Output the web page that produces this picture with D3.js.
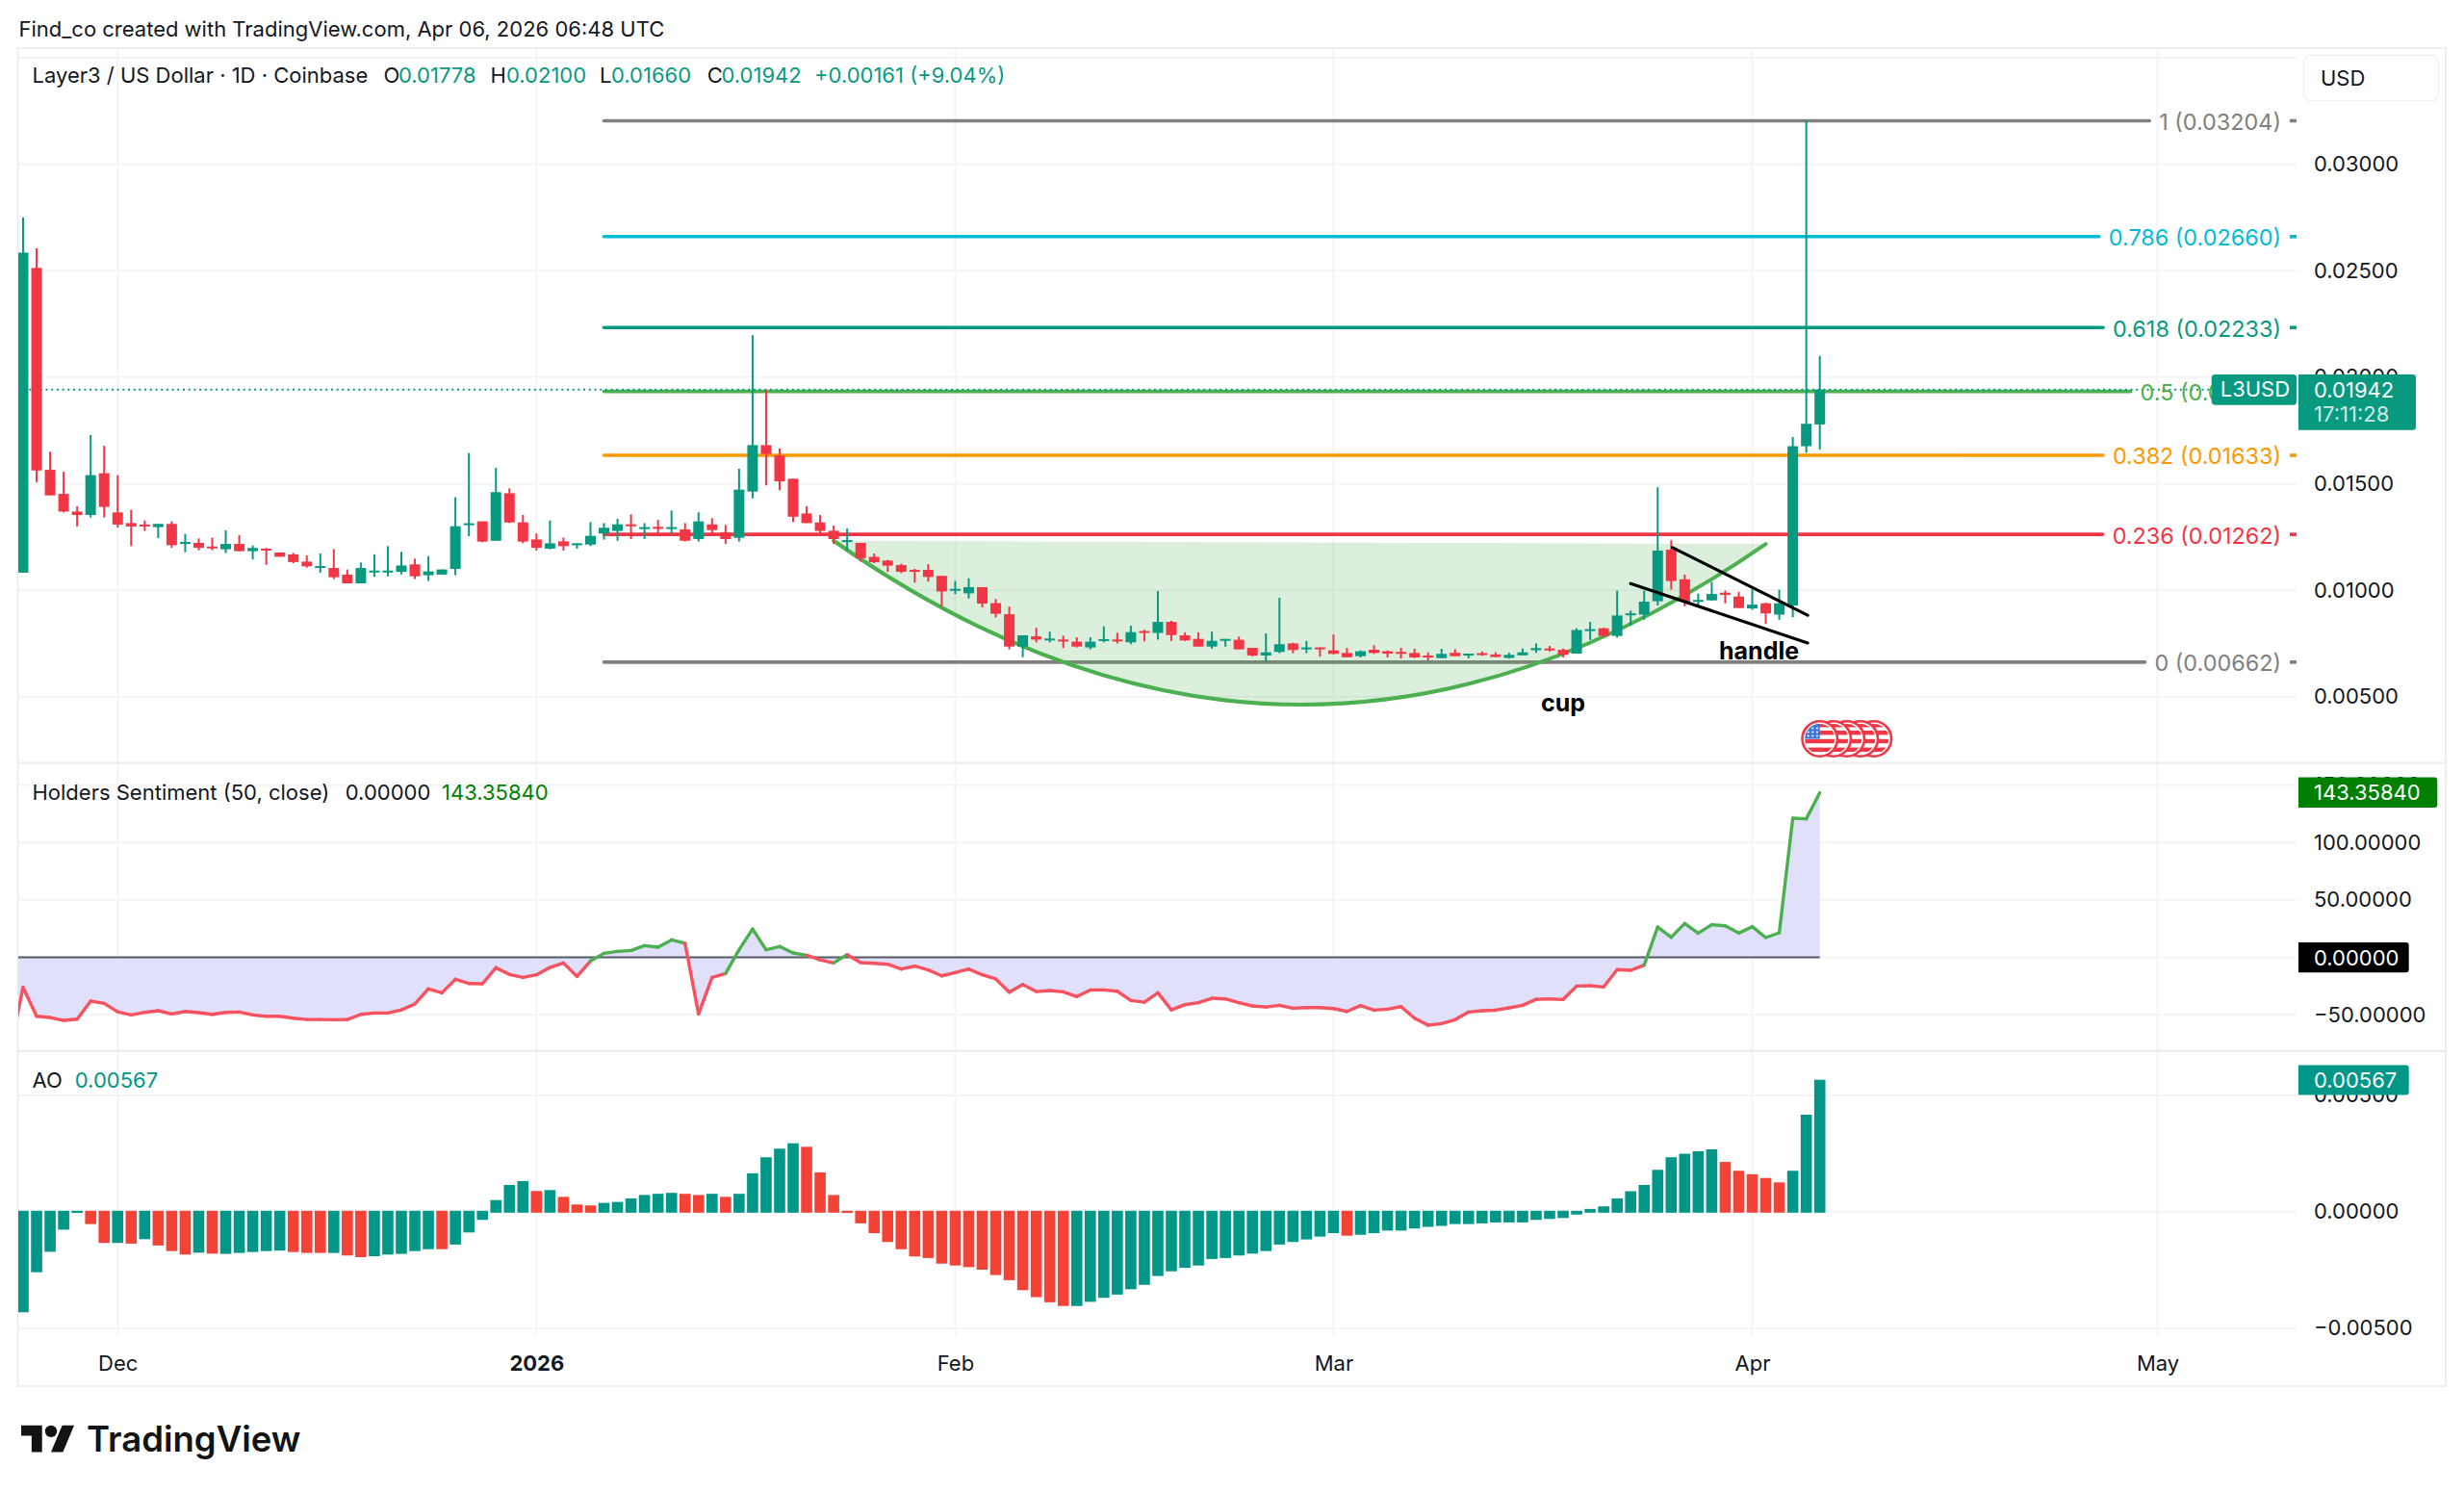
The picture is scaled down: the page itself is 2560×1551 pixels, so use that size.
<!DOCTYPE html>
<html>
<head>
<meta charset="utf-8">
<title>Layer3 / US Dollar</title>
<script src="https://cdn.jsdelivr.net/npm/d3@7"></script>
<style>
html,body{margin:0;padding:0;background:#fff;}
svg{display:block;}
text{font-family:Inter,"Noto Sans",sans-serif;fill:#131722;}
</style>
</head>
<body>
<svg id="chart" width="2560" height="1551"></svg>
<script>
// Daily L3USD candles, first session Nov 24 2025
const firstSession = Date.UTC(2025, 10, 24);
const opens = [.01082,.02513,.01565,.01452,.01369,.01353,.01549,.01365,.01315,.01308,.01296,.01311,.01219,.01222,.01205,.01192,.01217,.01183,.01195,.01177,.01168,.01134,.01107,.01104,.01073,.01032,.01086,.01086,.01086,.01121,.01070,.01073,.01100,.01309,.01323,.01232,.01455,.01318,.01238,.01195,.01229,.01216,.01214,.01266,.01278,.01309,.01291,.01297,.01288,.01285,.01240,.01309,.01272,.01246,.01463,.01681,.01632,.01523,.01360,.01318,.01279,.01229,.01222,.01156,.01139,.01118,.01095,.01095,.01067,.01002,.00985,.01014,.00939,.00887,.00735,.00783,.00765,.00768,.00758,.00731,.00761,.00768,.00755,.00808,.00799,.00851,.00788,.00771,.00735,.00764,.00767,.00729,.00693,.00710,.00750,.00722,.00731,.00717,.00705,.00690,.00720,.00713,.00710,.00705,.00693,.00681,.00706,.00696,.00704,.00698,.00682,.00694,.00718,.00726,.00720,.00702,.00809,.00821,.00785,.00887,.00885,.00948,.01190,.01051,.00946,.00952,.00988,.00970,.00914,.00938,.00885,.00928,.01676,.01778];
const highs = [.02750,.02605,.01650,.01556,.01394,.01728,.01678,.01540,.01377,.01327,.01311,.01323,.01264,.01243,.01247,.01281,.01259,.01210,.01198,.01177,.01175,.01163,.01172,.01193,.01097,.01130,.01168,.01207,.01180,.01148,.01160,.01097,.01436,.01644,.01323,.01574,.01478,.01353,.01266,.01327,.01247,.01220,.01320,.01315,.01335,.01356,.01315,.01330,.01374,.01315,.01365,.01338,.01306,.01570,.02197,.01941,.01665,.01523,.01394,.01353,.01303,.01290,.01222,.01172,.01142,.01124,.01100,.01122,.01067,.01043,.01056,.01014,.00958,.00922,.00788,.00823,.00805,.00786,.00779,.00779,.00830,.00800,.00833,.00814,.00996,.00856,.00802,.00802,.00805,.00771,.00782,.00729,.00797,.00964,.00753,.00762,.00731,.00792,.00729,.00717,.00741,.00717,.00729,.00725,.00708,.00725,.00722,.00702,.00712,.00708,.00706,.00726,.00750,.00738,.00726,.00821,.00851,.00823,.00998,.00904,.00998,.01483,.01235,.01073,.00984,.01039,.00998,.00992,.01004,.00942,.01002,.01719,.03204,.02100];
const lows = [.01082,.01507,.01445,.01365,.01299,.01341,.01341,.01294,.01207,.01278,.01244,.01199,.01178,.01187,.01187,.01174,.01183,.01144,.01119,.01157,.01127,.01106,.01082,.01052,.01032,.01032,.01062,.01065,.01074,.01052,.01044,.01073,.01070,.01253,.01225,.01232,.01315,.01220,.01186,.01192,.01186,.01195,.01207,.01237,.01232,.01240,.01240,.01263,.01263,.01229,.01228,.01263,.01217,.01228,.01431,.01492,.01469,.01320,.01315,.01266,.01217,.01187,.01134,.01127,.01086,.01080,.01035,.01040,.00924,.00981,.00961,.00919,.00872,.00722,.00685,.00755,.00755,.00728,.00731,.00722,.00755,.00750,.00746,.00759,.00768,.00761,.00761,.00735,.00725,.00735,.00722,.00688,.00664,.00704,.00704,.00704,.00688,.00699,.00685,.00684,.00701,.00684,.00679,.00681,.00670,.00681,.00690,.00680,.00692,.00686,.00678,.00694,.00706,.00712,.00684,.00702,.00766,.00781,.00777,.00833,.00861,.00928,.01002,.00924,.00926,.00952,.00938,.00916,.00908,.00841,.00861,.00873,.01644,.01660];
const closes = [.02585,.01562,.01445,.01369,.01353,.01540,.01391,.01308,.01299,.01299,.01311,.01211,.01226,.01199,.01199,.01217,.01183,.01198,.01189,.01157,.01132,.01112,.01113,.01061,.01032,.01104,.01092,.01092,.01116,.01065,.01088,.01097,.01300,.01314,.01228,.01460,.01318,.01228,.01199,.01220,.01207,.01220,.01255,.01293,.01309,.01303,.01296,.01291,.01296,.01232,.01323,.01282,.01240,.01472,.01681,.01639,.01511,.01345,.01315,.01278,.01240,.01235,.01150,.01131,.01115,.01086,.01089,.01062,.00994,.01006,.01014,.00937,.00889,.00735,.00788,.00768,.00773,.00762,.00735,.00758,.00770,.00761,.00803,.00800,.00851,.00789,.00764,.00735,.00762,.00771,.00722,.00693,.00708,.00746,.00719,.00731,.00725,.00701,.00685,.00713,.00705,.00702,.00702,.00684,.00687,.00701,.00690,.00702,.00698,.00686,.00696,.00708,.00728,.00718,.00696,.00813,.00817,.00785,.00881,.00891,.00946,.01186,.01043,.00946,.00954,.00982,.00978,.00916,.00932,.00891,.00938,.01676,.01781,.01942];

// Holders Sentiment (50, close); the series opens one session ahead of the candles
const sentimentFirstIndex = -1;
const sentiment = [-82.8,-26.1,-51.3,-52.4,-54.9,-53.8,-38.1,-40.1,-47.4,-50.1,-47.9,-46.5,-49.3,-47.1,-48.2,-49.6,-47.9,-47.6,-50.1,-51.3,-51.3,-53.0,-54.1,-54.1,-54.3,-54.1,-49.6,-48.5,-48.5,-45.7,-40.6,-27.5,-30.9,-19.1,-22.8,-23.0,-9.1,-14.9,-17.5,-15.2,-8.8,-4.9,-16.6,-3.2,3.5,5.2,6.0,10.2,8.8,15.2,12.2,-49.3,-17.5,-14.1,6.6,24.7,6.6,9.4,3.8,1.8,-2.1,-4.9,2.4,-4.6,-5.2,-6.0,-10.2,-7.7,-11.0,-16.1,-13.3,-10.2,-15.2,-18.8,-30.3,-23.6,-29.8,-28.9,-30.0,-34.2,-28.4,-28.4,-29.5,-37.6,-39.0,-30.9,-45.7,-41.2,-39.5,-35.6,-36.2,-39.5,-42.3,-43.2,-41.8,-44.3,-43.7,-43.7,-44.6,-47.1,-42.0,-46.0,-45.1,-42.9,-53.0,-59.1,-57.7,-54.3,-47.6,-46.5,-46.0,-44.0,-41.8,-36.5,-36.2,-36.7,-25.0,-24.7,-25.8,-10.7,-11.3,-6.8,26.4,17.5,29.5,21.1,28.4,27.5,21.1,26.7,17.2,21.4,121.1,120.6,143.3584];

// Awesome Oscillator histogram
const aoValues = [-.00432,-.00260,-.00172,-.00077,-.00005,-.00053,-.00134,-.00134,-.00137,-.00118,-.00145,-.00169,-.00184,-.00176,-.00180,-.00181,-.00177,-.00173,-.00169,-.00167,-.00173,-.00177,-.00177,-.00177,-.00188,-.00195,-.00191,-.00184,-.00181,-.00169,-.00161,-.00161,-.00141,-.00089,-.00035,.00050,.00115,.00132,.00089,.00093,.00064,.00031,.00027,.00038,.00042,.00057,.00072,.00077,.00081,.00077,.00072,.00077,.00064,.00077,.00165,.00234,.00271,.00294,.00279,.00169,.00072,-.00005,-.00050,-.00092,-.00130,-.00161,-.00192,-.00199,-.00223,-.00231,-.00238,-.00249,-.00272,-.00294,-.00337,-.00367,-.00389,-.00405,-.00405,-.00387,-.00370,-.00356,-.00333,-.00314,-.00276,-.00256,-.00241,-.00231,-.00203,-.00199,-.00188,-.00180,-.00169,-.00141,-.00130,-.00119,-.00107,-.00092,-.00103,-.00099,-.00092,-.00081,-.00081,-.00072,-.00065,-.00061,-.00053,-.00053,-.00050,-.00046,-.00046,-.00046,-.00035,-.00031,-.00027,-.00012,.00012,.00023,.00057,.00088,.00115,.00180,.00234,.00249,.00260,.00268,.00214,.00176,.00161,.00145,.00126,.00176,.00417,.00567];
// Indices of the sessions whose AO bar is falling (drawn red)
const aoRedIndices = [5,6,8,10,11,12,14,20,21,22,24,25,31,38,40,41,42,49,50,52,58,59,60,61,62,63,64,65,66,67,68,69,70,71,72,73,74,75,76,77,98,126,127,128,129,130];

// Fibonacci retracement
const fibRatios = ["1","0.786","0.618","0.5","0.382","0.236","0"];
const fibPrices = [.03204,.02660,.02233,.01933,.01633,.01262,.00662];
const fibColors = ["#808080","#00bcd4","#089981","#4caf50","#ff9800","#f23645","#808080"];
const fibStartIndex = 43;

// Cup curve: start, control and end anchors as [session index, price]
const cupAnchors = [[60,.01232],[94.5,-.00300],[129,.01217]];
// Handle channel as [session index, price] pairs
const handleLines = [[[122.1,.01200],[132.1,.00882]],[[119,.01031],[132.1,.00752]]];
const noteLabels = [{text:"cup",index:114,price:.00472},{text:"handle",index:128.5,price:.00715}];
// Upcoming US economic events
const eventIndices = [133,134,135,136,137];

// Axis ticks
const priceTicks = [.035,.03,.025,.02,.015,.01,.005];
const sentimentTicks = [150,100,50,0,-50];
const aoTicks = [.005,0,-.005];
const monthTicks = [Date.UTC(2025,11,1),Date.UTC(2026,0,1),Date.UTC(2026,1,1),Date.UTC(2026,2,1),Date.UTC(2026,3,1),Date.UTC(2026,4,1)];
const monthLabels = ["Dec","2026","Feb","Mar","Apr","May"];

const GREEN = "#089981", RED = "#f23645", AO_GREEN = "#009688", AO_RED = "#f44336";
const GRID = "#f3f4f6", FRAME = "#eeeeee";
const FONT_SIZE = 22, FIB_FONT_SIZE = 23.4;
const sessionDate = i => firstSession + i * 864e5;

const left = 19, right = 2386, outerRight = 2541;
const x = d3.scaleUtc().domain([sessionDate(0), sessionDate(133)]).range([24, 1890.7]);
const yPrice = d3.scaleLinear().domain([.03, .005]).range([170.6, 723.7]);
const ySent = d3.scaleLinear().domain([100, -50]).range([875.2, 1054.2]);
const yAO = d3.scaleLinear().domain([.005, -.005]).range([1137.9, 1379.7]);
const xi = i => x(sessionDate(i));

const svg = d3.select("#chart");
const root = svg.append("g");

const defs = svg.append("defs");
const clips = {main:[50,792],sent:[793,1091],ao:[1092,1387]};
Object.entries(clips).forEach(([id,[t,b]]) => {
  defs.append("clipPath").attr("id","clip-"+id).append("rect")
    .attr("x",left).attr("y",t).attr("width",right-left).attr("height",b-t);
});

function label(g, px, py, str, o = {}) {
  return g.append("text").attr("x",px).attr("y",py).attr("dy","0.36em")
    .attr("font-size",o.size||FONT_SIZE).attr("text-anchor",o.anchor||"start")
    .attr("font-weight",o.weight||400).style("fill",o.fill||"#131722")
    .attr("opacity",o.opacity==null?1:o.opacity).text(str);
}

// Pane frame and horizontal / vertical grid
const gridG = root.append("g");
[[yPrice,priceTicks],[ySent,sentimentTicks],[yAO,aoTicks]].forEach(([s,ticks]) => {
  gridG.selectAll(null).data(ticks).enter().append("line")
    .attr("x1",left).attr("x2",right).attr("y1",d=>s(d)).attr("y2",d=>s(d))
    .attr("stroke",GRID).attr("stroke-width",2);
});
gridG.selectAll(null).data(monthTicks).enter().append("line")
  .attr("x1",d=>x(d)).attr("x2",d=>x(d)).attr("y1",50).attr("y2",1387)
  .attr("stroke",GRID).attr("stroke-width",2);
root.append("rect").attr("x",18.5).attr("y",50).attr("width",outerRight-18.5).attr("height",1390)
  .attr("fill","none").attr("stroke",FRAME).attr("stroke-width",2);
[792.5,1091.7].forEach(v => root.append("line").attr("x1",19).attr("x2",outerRight)
  .attr("y1",v).attr("y2",v).attr("stroke","#ebebeb").attr("stroke-width",2));

// Main pane
const main = root.append("g").attr("clip-path","url(#clip-main)");
const lastClose = closes[closes.length-1];
const fibG = main.append("g");
const annotG = root.append("g");
fibPrices.forEach((p,i) => {
  const y = yPrice(p), c = fibColors[i];
  const t = label(annotG, 2370, y+1, `${fibRatios[i]} (${p.toFixed(5)})`, {anchor:"end", fill:c, size:FIB_FONT_SIZE});
  const w = t.node().getComputedTextLength();
  fibG.append("line").attr("x1",xi(fibStartIndex)).attr("x2",2370-w-10).attr("y1",y).attr("y2",y)
    .attr("stroke",c).attr("stroke-width",3.6).attr("stroke-linecap","round");
  fibG.append("line").attr("x1",2379).attr("x2",2386).attr("y1",y).attr("y2",y)
    .attr("stroke",c).attr("stroke-width",3.6);
});
main.append("line").attr("x1",left).attr("x2",right).attr("y1",yPrice(lastClose)).attr("y2",yPrice(lastClose))
  .attr("stroke",GREEN).attr("stroke-width",2).attr("stroke-dasharray","2 3.7");

// Cup: quadratic curve and the fill under its chord
const cupPath = () => {
  const p = d3.path();
  const [a,b,c] = cupAnchors.map(([i,v]) => [xi(i), yPrice(v)]);
  p.moveTo(a[0],a[1]);
  p.quadraticCurveTo(b[0],b[1],c[0],c[1]);
  return p.toString();
};
main.append("path").attr("d",cupPath()+"Z").attr("fill","rgba(76,175,80,0.2)");
main.append("path").attr("d",cupPath()).attr("fill","none").attr("stroke","#4caf50").attr("stroke-width",4).attr("stroke-linecap","round");

// Candles
const sessions = d3.range(opens.length);
const candleG = main.append("g");
candleG.selectAll("line").data(sessions).enter().append("line")
  .attr("x1",xi).attr("x2",xi).attr("y1",i=>yPrice(highs[i])).attr("y2",i=>yPrice(lows[i]))
  .attr("stroke",i=>closes[i]>=opens[i]?GREEN:RED).attr("stroke-width",2);
candleG.selectAll("rect").data(sessions).enter().append("rect")
  .attr("x",i=>xi(i)-5.5).attr("width",11)
  .attr("y",i=>yPrice(Math.max(opens[i],closes[i])))
  .attr("height",i=>Math.max(2,Math.abs(yPrice(opens[i])-yPrice(closes[i]))))
  .attr("fill",i=>closes[i]>=opens[i]?GREEN:RED);

// Handle channel and notes
handleLines.forEach(([a,b]) => main.append("line")
  .attr("x1",xi(a[0])).attr("y1",yPrice(a[1])).attr("x2",xi(b[0])).attr("y2",yPrice(b[1]))
  .attr("stroke","#000").attr("stroke-width",3.2).attr("stroke-linecap","round"));
noteLabels.forEach(n => label(main, xi(n.index), yPrice(n.price), n.text,
  {anchor:"middle", weight:700, size:25, fill:"#000"}));

// Event markers, the earliest one on top
const flagG = root.append("g");
const flagY = 767.5;
defs.append("clipPath").attr("id","flag-clip").append("circle").attr("r",15.5);
eventIndices.slice().reverse().forEach((idx,k,arr) => {
  const g = flagG.append("g").attr("transform",`translate(${xi(idx)},${flagY})`);
  g.append("circle").attr("r",18.2).attr("fill","#fff").attr("stroke",RED).attr("stroke-width",2.6);
  const inner = g.append("g").attr("clip-path","url(#flag-clip)");
  d3.range(3).forEach(s => inner.append("rect").attr("x",-16).attr("width",32)
    .attr("y",-8.5+s*8.8).attr("height",4.4).attr("fill",RED));
  inner.append("rect").attr("x",-16).attr("width",32).attr("y",-15.5).attr("height",3.5).attr("fill",RED);
  if (k === arr.length-1) {
    inner.append("rect").attr("x",-16).attr("y",-16).attr("width",16).attr("height",16).attr("fill","#3c78d8");
    d3.range(3).forEach(r => d3.range(3).forEach(c =>
      inner.append("circle").attr("cx",-12+c*4.6).attr("cy",-11+r*4).attr("r",1.1).attr("fill","#fff")));
  }
});

// Holders Sentiment pane
const sentG = root.append("g").attr("clip-path","url(#clip-sent)");
const sentPts = sentiment.map((v,k) => ({i:k+sentimentFirstIndex, v}));
sentG.append("path").datum(sentPts)
  .attr("d",d3.area().x(d=>xi(d.i)).y0(ySent(0)).y1(d=>ySent(d.v)))
  .attr("fill","#e0e0fb");
sentG.append("line").attr("x1",left).attr("x2",xi(133)).attr("y1",ySent(0)).attr("y2",ySent(0))
  .attr("stroke","#555a63").attr("stroke-width",2);
const sentLine = d3.line().x(d=>xi(d.i)).y(d=>ySent(d.v));
d3.pairs(sentPts).forEach(([a,b]) => sentG.append("path").attr("d",sentLine([a,b])).attr("fill","none")
  .attr("stroke",b.v>0?"#4caf50":"#f7525f").attr("stroke-width",3.4).attr("stroke-linejoin","round").attr("stroke-linecap","round"));

// AO pane
const aoG = root.append("g").attr("clip-path","url(#clip-ao)");
const aoZero = yAO(0);
aoG.selectAll("rect").data(aoValues).enter().append("rect")
  .attr("x",(d,i)=>xi(i)-5.8).attr("width",11.6)
  .attr("y",d=>d>=0?yAO(d):aoZero-1)
  .attr("height",d=>Math.abs(yAO(d)-aoZero)+1)
  .attr("fill",(d,i)=>aoRedIndices.includes(i)?AO_RED:AO_GREEN);

// Value axes
function valueAxis(scale, ticks, fmt) {
  const g = root.append("g").attr("transform",`translate(2404,0)`);
  g.call(d3.axisRight(scale).tickValues(ticks).tickSize(0).tickPadding(0).tickFormat(fmt));
  g.select(".domain").remove();
  g.selectAll("text").style("font-size",FONT_SIZE+"px").style("font-family","Inter").style("fill","#131722");
}
const fmt5 = d => d3.format(".5f")(d).replace("-","\u2212");
valueAxis(yPrice, priceTicks.slice(1), fmt5);
valueAxis(ySent, sentimentTicks, fmt5);
valueAxis(yAO, aoTicks, fmt5);

// Time axis
const timeAxis = root.append("g").attr("transform","translate(0,1416)");
timeAxis.call(d3.axisBottom(x).tickValues(monthTicks).tickSize(0).tickPadding(0).tickFormat((d,i)=>monthLabels[i]));
timeAxis.select(".domain").remove();
timeAxis.selectAll("text").attr("dy","0.36em").style("font-size",FONT_SIZE+"px").style("font-family","Inter")
  .style("font-weight",(d,i)=>i===1?700:400).style("fill","#131722");

// Last-value tags
function tag(px,py,w,h,fill,r){
  root.append("path").attr("fill",fill).attr("d",
    `M${px},${py}H${px+w-r}a${r},${r} 0 0 1 ${r},${r}V${py+h-r}a${r},${r} 0 0 1 ${-r},${r}H${px}Z`);
}
root.append("rect").attr("x",2297.7).attr("y",389).attr("width",88.5).attr("height",31.7).attr("rx",4).attr("fill",GREEN);
label(root,2306.7,404.5,"L3USD",{fill:"#fff"});
tag(2388,389,122,57.7,GREEN,3);
label(root,2404,405,lastClose.toFixed(5),{fill:"#fff"});
label(root,2404,430,"17:11:28",{fill:"#fff",opacity:.8});
tag(2388,807.6,144.3,31.4,"#008000",3);
label(root,2404,823.5,"143.35840",{fill:"#fff"});
tag(2388,979,114.7,31.2,"#000",3);
label(root,2404,994.7,"0.00000",{fill:"#fff"});
tag(2388,1106.4,114.7,31.2,AO_GREEN,3);
label(root,2404,1122,"0.00567",{fill:"#fff"});

// Currency button
root.append("rect").attr("x",2393.5).attr("y",57.5).attr("width",140).attr("height",47).attr("rx",7)
  .attr("fill","#fff").attr("stroke","#f0f1f4").attr("stroke-width",1.5);
label(root,2411,81,"USD");

// Legends
label(root,19.5,30,"Find_co created with TradingView.com, Apr 06, 2026 06:48 UTC");
label(root,33.5,78,"Layer3 / US Dollar \u00b7 1D \u00b7 Coinbase");
[["O",398.6,414,"0.01778"],["H",509.5,526,"0.02100"],["L",623,635,"0.01660"],["C",734.7,749.5,"0.01942"]].forEach(([k,kx,vx,v])=>{
  label(root,kx,78,k);
  label(root,vx,78,v,{fill:GREEN});
});
label(root,846,78,"+0.00161 (+9.04%)",{fill:GREEN});
label(root,33.5,823,"Holders Sentiment (50, close)");
label(root,358.8,823,"0.00000");
label(root,459,823,"143.35840",{fill:"#008000"});
label(root,33.5,1122,"AO");
label(root,77.8,1122,"0.00567",{fill:AO_GREEN});

// Wordmark
const logo = root.append("g").attr("transform","translate(22,1474.5) scale(1.55)").attr("fill","#131313");
logo.append("path").attr("d","M14 22H7V11H0V4h14v18zM28 22h-8l7.5-18h8L28 22z");
logo.append("circle").attr("cx",20).attr("cy",8).attr("r",4);
root.append("text").attr("x",90).attr("y",1508).attr("font-size",36.5).attr("font-weight",600)
  .style("fill","#131313").text("TradingView");
</script>
</body>
</html>
